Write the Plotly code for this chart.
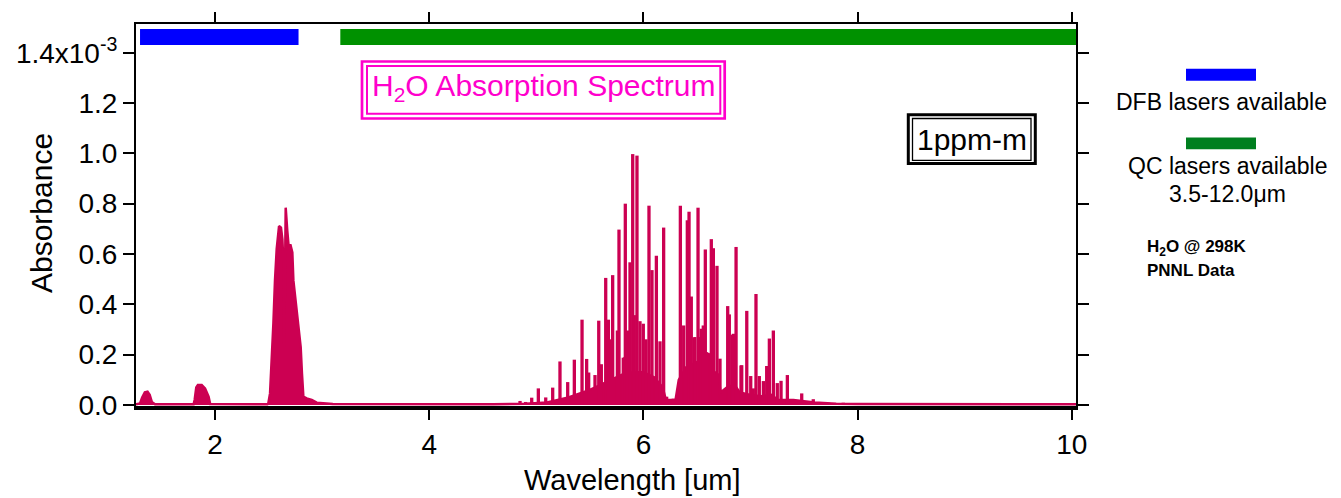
import plotly.graph_objects as go

# Continuous absorbance envelope (wavelength in um, absorbance x1e-3)
env_wl = [1.262, 1.30, 1.32, 1.345, 1.37, 1.39, 1.41, 1.44,
          1.80, 1.81, 1.825, 1.84, 1.876, 1.907, 1.94, 1.955,
          2.49, 2.498, 2.514, 2.529, 2.545, 2.56, 2.576, 2.598, 2.616, 2.629,
          2.638, 2.647, 2.66, 2.675, 2.691, 2.703, 2.722, 2.732, 2.756, 2.778,
          2.80, 2.812, 2.825, 2.856, 2.903, 2.95, 3.10,
          4.60, 4.90, 5.10, 5.20, 5.30, 5.40, 5.50, 5.60, 5.70, 5.80, 5.90,
          6.00, 6.10, 6.18, 6.21, 6.30, 6.33, 6.40, 6.50, 6.60, 6.70, 6.72,
          6.78, 6.85, 6.90, 7.00, 7.10, 7.20, 7.25, 7.40, 7.50, 7.60, 7.80,
          8.00, 10.04]
env_abs = [0.003, 0.006, 0.03, 0.05, 0.053, 0.04, 0.012, 0.003,
           0.003, 0.02, 0.07, 0.079, 0.079, 0.066, 0.033, 0.004,
           0.003, 0.007, 0.046, 0.171, 0.323, 0.494, 0.619, 0.711, 0.705, 0.659,
           0.573, 0.23, 0.784, 0.692, 0.613, 0.639, 0.606, 0.494, 0.395, 0.31,
           0.23, 0.125, 0.033, 0.026, 0.02, 0.009, 0.004,
           0.003, 0.005, 0.01, 0.02, 0.03, 0.045, 0.06, 0.08, 0.10, 0.12, 0.13,
           0.13, 0.11, 0.07, 0.02, 0.02, 0.10, 0.15, 0.17, 0.15, 0.12, 0.05,
           0.07, 0.08, 0.05, 0.04, 0.035, 0.04, 0.02, 0.02, 0.015, 0.01, 0.005,
           0.004, 0.003]

# Individual rotational lines of the 6 um bending band
line_wl = [4.848, 4.900, 4.957, 5.019, 5.088, 5.153, 5.221, 5.293, 5.355, 5.427,
           5.470, 5.489, 5.548, 5.583, 5.607, 5.648, 5.673, 5.688, 5.713, 5.757,
           5.772, 5.812, 5.828, 5.831, 5.850, 5.875, 5.900, 5.915, 5.940, 5.968,
           5.999, 6.024, 6.052, 6.080, 6.121, 6.155, 6.189, 6.217, 6.250, 6.279,
           6.345, 6.376, 6.390, 6.410, 6.426, 6.447, 6.472, 6.480, 6.510, 6.528,
           6.540, 6.559, 6.578, 6.590, 6.603, 6.620, 6.634, 6.653, 6.687, 6.715,
           6.725, 6.787, 6.802, 6.830, 6.840, 6.865, 6.911, 6.918, 6.965, 7.002,
           7.026, 7.051, 7.082, 7.120, 7.151, 7.176, 7.213, 7.250, 7.285, 7.344,
           7.478, 7.586, 7.866]
line_abs = [0.016, 0.012, 0.029, 0.066, 0.030, 0.069, 0.173, 0.091, 0.180, 0.339,
            0.183, 0.129, 0.119, 0.335, 0.162, 0.505, 0.339, 0.261, 0.516, 0.296,
            0.697, 0.188, 0.191, 0.800, 0.296, 0.567, 0.997, 0.357, 0.991, 0.333,
            0.323, 0.261, 0.792, 0.536, 0.593, 0.253, 0.705, 0.033, 0.020, 0.025,
            0.792, 0.316, 0.105, 0.734, 0.768, 0.431, 0.267, 0.270, 0.784, 0.270,
            0.303, 0.316, 0.618, 0.210, 0.207, 0.205, 0.659, 0.623, 0.553, 0.184,
            0.047, 0.393, 0.360, 0.279, 0.283, 0.628, 0.157, 0.158, 0.374, 0.115,
            0.066, 0.441, 0.115, 0.095, 0.155, 0.264, 0.296, 0.087, 0.096, 0.119,
            0.046, 0.023, 0.009]

# Laser coverage bands (um)
dfb_band = [1.30, 2.78]
qc_band = [3.17, 12.0]

y_tick_vals = [0.0, 0.2, 0.4, 0.6, 0.8, 1.0, 1.2, 1.4]
y_tick_text = ["0.0", "0.2", "0.4", "0.6", "0.8", "1.0", "1.2",
               "1.4x10<sup>-3</sup>"]
x_tick_vals = [2, 4, 6, 8, 10]

SPEC = "#cc0052"
MAGENTA = "#ff00cc"
FONT = "Arial, Liberation Sans, sans-serif"

W, H = 1341, 498
L, R, T, B = 136, 1076, 22, 408


def fx(p):
    return (p - L) / (R - L)


def fy(p):
    return (B - p) / (B - T)


fig = go.Figure()

fig.add_trace(go.Scatter(
    x=env_wl, y=env_abs, mode="lines", fill="tozeroy",
    line=dict(color=SPEC, width=2.5), fillcolor=SPEC,
    hoverinfo="skip", showlegend=False))

sx, sy = [], []
for w, a in zip(line_wl, line_abs):
    sx += [w, w, None]
    sy += [0, a, None]
fig.add_trace(go.Scatter(
    x=sx, y=sy, mode="lines", line=dict(color=SPEC, width=3.3),
    hoverinfo="skip", showlegend=False))

shapes = []
# coverage bars across the top of the plot
shapes.append(dict(type="rect", xref="x", yref="y",
                   x0=dfb_band[0], x1=dfb_band[1], y0=1.431, y1=1.494,
                   fillcolor="#0000ff", line=dict(width=0)))
shapes.append(dict(type="rect", xref="x", yref="y",
                   x0=qc_band[0], x1=qc_band[1], y0=1.431, y1=1.494,
                   fillcolor="#009100", line=dict(width=0)))
# legend swatches
shapes.append(dict(type="rect", xref="paper", yref="paper",
                   x0=fx(1186), x1=fx(1256), y0=fy(79), y1=fy(67),
                   fillcolor="#0000ff", line=dict(width=0)))
shapes.append(dict(type="rect", xref="paper", yref="paper",
                   x0=fx(1186), x1=fx(1256), y0=fy(148), y1=fy(136),
                   fillcolor="#007f1f", line=dict(width=0)))
# double frame round the title
shapes.append(dict(type="rect", xref="paper", yref="paper",
                   x0=fx(362), x1=fx(724.7), y0=fy(117), y1=fy(59.7),
                   line=dict(color=MAGENTA, width=2.7)))
shapes.append(dict(type="rect", xref="paper", yref="paper",
                   x0=fx(367), x1=fx(720.3), y0=fy(112.3), y1=fy(64.3),
                   line=dict(color=MAGENTA, width=2)))
# double frame round the path-length note
shapes.append(dict(type="rect", xref="paper", yref="paper",
                   x0=fx(908.3), x1=fx(1035.3), y0=fy(162.3), y1=fy(113.3),
                   line=dict(color="black", width=3)))
shapes.append(dict(type="rect", xref="paper", yref="paper",
                   x0=fx(912.5), x1=fx(1031), y0=fy(159), y1=fy(117),
                   line=dict(color="black", width=1.3)))
# heavy bottom axis line
shapes.append(dict(type="line", xref="paper", yref="paper",
                   x0=fx(134), x1=fx(1077), y0=0, y1=0,
                   line=dict(color="black", width=4)))

annotations = [
    dict(x=fx(544), y=fy(86), text="H<sub>2</sub>O Absorption Spectrum",
         font=dict(size=30, color=MAGENTA)),
    dict(x=fx(972), y=fy(138), text="1ppm-m",
         font=dict(size=30, color="black")),
    dict(x=fx(1221), y=fy(100), text="DFB lasers available",
         font=dict(size=23, color="black")),
    dict(x=fx(1227), y=fy(165), text="QC lasers available",
         font=dict(size=23, color="black")),
    dict(x=fx(1227), y=fy(193), text="3.5-12.0\u03bcm",
         font=dict(size=23, color="black")),
    dict(x=fx(1145), y=fy(247), text="<b>H<sub>2</sub>O @ 298K</b>",
         xanchor="left", font=dict(size=17, color="black")),
    dict(x=fx(1145), y=fy(270), text="<b>PNNL Data</b>",
         xanchor="left", font=dict(size=17, color="black")),
    dict(x=fx(41), y=fy(212), text="Absorbance", textangle=-90,
         font=dict(size=30, color="black")),
    dict(x=fx(632), y=fy(480), text="Wavelength [um]",
         font=dict(size=29, color="black")),
]
for a in annotations:
    a.setdefault("xref", "paper")
    a.setdefault("yref", "paper")
    a.setdefault("xanchor", "center")
    a.setdefault("yanchor", "middle")
    a["showarrow"] = False

fig.update_layout(
    width=W, height=H,
    margin=dict(l=L, r=W - R, t=T, b=H - B, pad=0),
    paper_bgcolor="white", plot_bgcolor="white",
    font=dict(family=FONT, color="black"),
    shapes=shapes, annotations=annotations,
    showlegend=False,
)
fig.update_xaxes(
    range=[1.2624, 10.039], tickvals=x_tick_vals,
    showgrid=False, zeroline=False,
    showline=True, linecolor="black", linewidth=2, mirror="allticks",
    ticks="outside", ticklen=10, tickwidth=2, tickcolor="black",
    tickfont=dict(size=28, family=FONT),
)
fig.update_yaxes(
    range=[-0.012, 1.514], tickvals=y_tick_vals, ticktext=y_tick_text,
    showgrid=False, zeroline=False,
    showline=True, linecolor="black", linewidth=2, mirror="allticks",
    ticks="outside", ticklen=11, tickwidth=2, tickcolor="black",
    tickfont=dict(size=28, family=FONT),
)

fig.write_html("out.html")
